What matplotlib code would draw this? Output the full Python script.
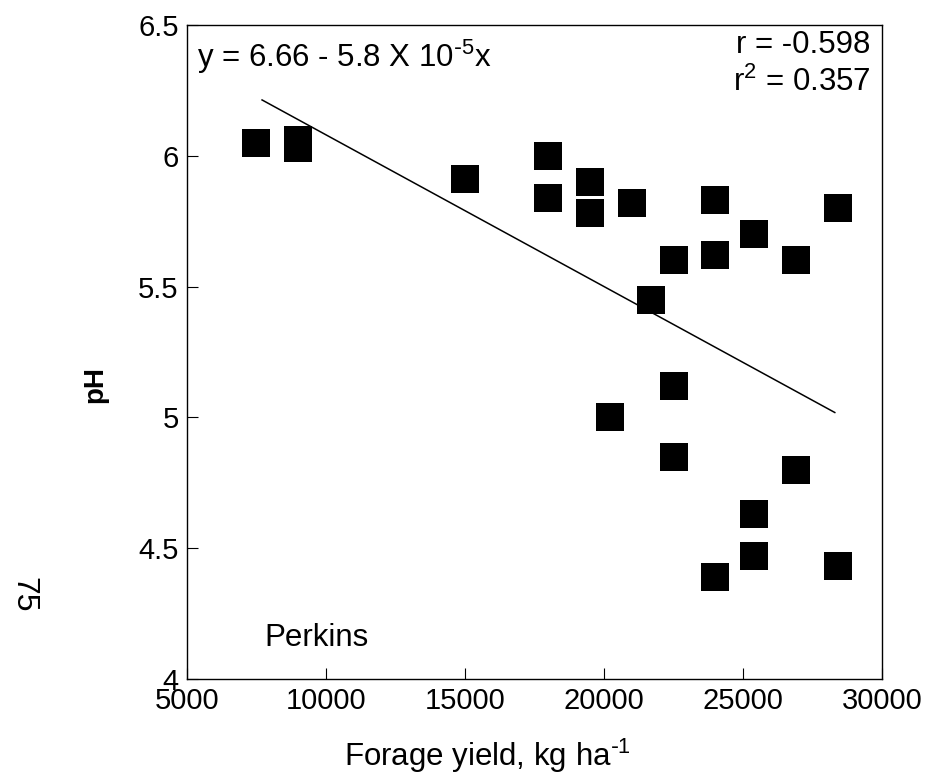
import matplotlib
matplotlib.use("Agg")
import matplotlib.pyplot as plt
import numpy as np

plt.rcParams['font.family'] = ['Liberation Sans', 'DejaVu Sans']
plt.rcParams['mathtext.default'] = 'regular'

# forage yield (kg/ha) and soil pH
yield_kg = [7500, 9000, 9000, 15000, 18000, 18000, 19500, 19500, 21000,
            22500, 21700, 22500, 20200, 22500, 26900, 25400, 25400, 24000,
            28400, 24000, 24000, 25400, 26900, 28400]
ph = [6.05, 6.06, 6.03, 5.91, 6.00, 5.84, 5.90, 5.78, 5.82,
      5.60, 5.45, 5.12, 5.00, 4.85, 4.80, 4.63, 4.47, 4.39,
      4.43, 5.83, 5.62, 5.70, 5.60, 5.80]

# regression y = a + b x
intercept = 6.66
slope = -5.8e-5
line_x = [7700, 28300]

x_ticks = [5000, 10000, 15000, 20000, 25000, 30000]
y_ticks = [4, 4.5, 5, 5.5, 6, 6.5]
y_tick_labels = ['4', '4.5', '5', '5.5', '6', '6.5']


def main():
    fig = plt.figure(figsize=(9.28, 7.78), dpi=100)
    ax = fig.add_axes([0.2015, 0.1273, 0.749, 0.8406])

    ax.scatter(yield_kg, ph, marker='s', s=20 ** 2, color='black',
               linewidths=0, zorder=3)
    lx = np.array(line_x)
    ax.plot(lx, intercept + slope * lx, color='black', linewidth=1.1)

    ax.set_xlim(5000, 30000)
    ax.set_ylim(4, 6.5)
    ax.set_xticks(x_ticks)
    ax.set_yticks(y_ticks)
    ax.set_yticklabels(y_tick_labels)
    ax.tick_params(direction='in', length=8, width=0.8, labelsize=21,
                   pad=6)
    for s in ax.spines.values():
        s.set_linewidth(1.0)

    ax.set_xlabel(r'Forage yield, kg ha$^{\text{-}1}$', fontsize=22.5)
    ax.xaxis.set_label_coords(0.433, -0.088)
    ax.set_ylabel('pH', fontsize=20, fontweight='bold')
    ax.yaxis.set_label_coords(-0.114, 0.45)

    ax.text(0.014, 0.951, r'y = 6.66 - 5.8 X 10$^{\text{-}5}$x',
            transform=ax.transAxes, fontsize=22.5, ha='left', va='center')
    ax.text(0.983, 0.969, 'r = -0.598', transform=ax.transAxes,
            fontsize=22.5, ha='right', va='center')
    ax.text(0.983, 0.913, 'r$^2$ = 0.357', transform=ax.transAxes,
            fontsize=22.5, ha='right', va='center')
    ax.text(0.112, 0.063, 'Perkins', transform=ax.transAxes,
            fontsize=22.5, ha='left', va='center')

    fig.text(0.025, 0.235, '75', rotation=-90, fontsize=23,
             ha='center', va='center')

    fig.savefig('out.png', dpi=100)


main()
